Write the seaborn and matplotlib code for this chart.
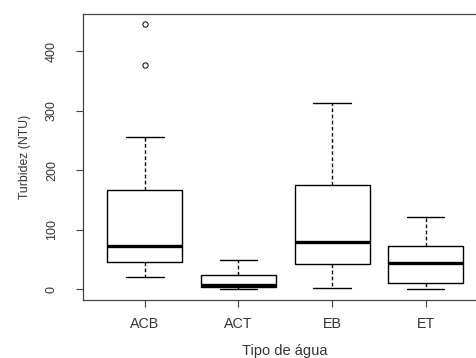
import numpy as np
import pandas as pd
import matplotlib
matplotlib.use("Agg")
import matplotlib.pyplot as plt
import seaborn as sns

# observations per water type (estimated from the reference boxplot)
categories = ["ACB", "ACT", "EB", "ET"]
turb_acb = [21, 30, 40, 46, 55, 65, 73, 100, 130, 166, 255, 376, 445]
turb_act = [0.5, 2, 4, 5, 7, 15, 24, 35, 49]
turb_eb = [2, 20, 42, 60, 80, 120, 176, 240, 312]
turb_et = [0.5, 5, 10, 25, 44, 60, 72, 95, 121]
y_ticks = [0, 100, 200, 300, 400]

groups = [turb_acb, turb_act, turb_eb, turb_et]
df = pd.DataFrame({
    "tipo": np.repeat(categories, [len(g) for g in groups]),
    "turbidez": np.concatenate(groups),
})

sns.set_style("white")
plt.rcParams["font.family"] = ["Liberation Sans", "DejaVu Sans"]

fig = plt.figure(figsize=(4.77, 3.58), dpi=100)
ax = fig.add_axes([0.174, 0.162, 0.848, 0.800])

sns.boxplot(
    data=df, x="tipo", y="turbidez", order=categories, ax=ax,
    color="white", linecolor="black", linewidth=1.0, width=0.8,
    whiskerprops=dict(linestyle=(0, (2.6, 1.8))),
    medianprops=dict(linewidth=2.4, color="black"),
    flierprops=dict(marker="o", markerfacecolor="none",
                    markeredgecolor="black", markersize=3.8, markeredgewidth=0.7),
)

ax.set_xlim(-0.66, 3.66)
ax.set_ylim(-17.8, 462.8)
ax.set_yticks(y_ticks)
ax.set_yticklabels([str(v) for v in y_ticks], rotation=90, va="center")

text_col = "#333333"
ax.tick_params(axis="y", direction="out", length=5, width=0.8, color="#444444",
               labelsize=9.0, labelcolor=text_col, pad=13, left=True)
ax.tick_params(axis="x", direction="out", length=5, width=0.8, color="#444444",
               labelsize=10.3, labelcolor=text_col, pad=7, bottom=True)

for sp in ax.spines.values():
    sp.set_color("#444444")
    sp.set_linewidth(0.9)

ax.set_xlabel("Tipo de água", fontsize=10.5, color=text_col)
ax.set_ylabel("Turbidez (NTU)", fontsize=8.8, color=text_col)
ax.xaxis.set_label_coords(0.5, -0.153)
ax.yaxis.set_label_coords(-0.128, 0.5)

fig.savefig("out.png", dpi=100)
plt.close(fig)
